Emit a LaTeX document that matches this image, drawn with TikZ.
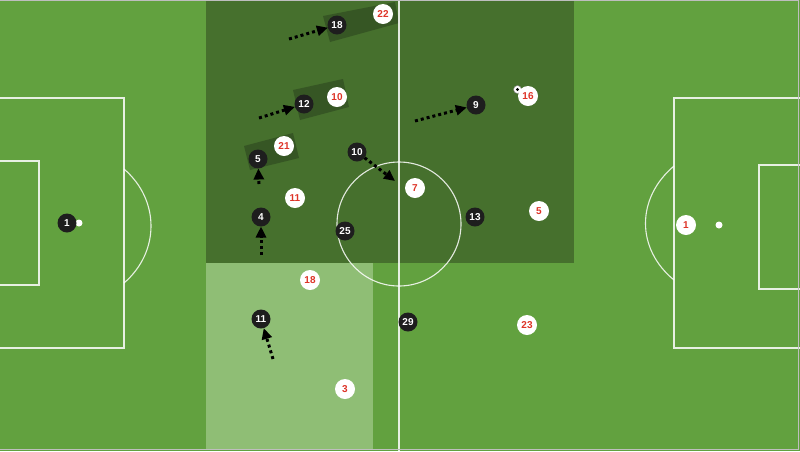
\documentclass[tikz,border=0pt]{standalone}
\usepackage{fontspec}
\setmainfont{Liberation Sans}
\usetikzlibrary{arrows.meta}
\definecolor{fieldgreen}{RGB}{98,161,63}
\definecolor{zonedark}{RGB}{70,112,45}
\definecolor{zonelight}{RGB}{143,190,117}
\definecolor{shadowgreen}{RGB}{54,86,36}
\definecolor{numred}{RGB}{222,52,40}
\definecolor{playerblack}{RGB}{30,30,30}
\definecolor{framegrey}{RGB}{190,190,190}
\begin{document}
\begin{tikzpicture}[x=1pt,y=-1pt,
  pitchline/.style={draw=white, draw opacity=0.85, line width=1.1pt},
  blackp/.style={circle, fill=playerblack, text=white, minimum size=19pt, inner sep=0pt, outer sep=0pt, font=\fontsize{10}{10}\selectfont\bfseries},
  whitep/.style={circle, fill=white, text=numred, minimum size=20pt, inner sep=0pt, outer sep=0pt, font=\fontsize{10}{10}\selectfont\bfseries},
  runarrow/.style={draw=black, line width=3pt, dash pattern=on 3pt off 3pt, -{Triangle[length=11pt,width=10pt]}},
  spot/.style={circle, fill=white, minimum size=7pt, inner sep=0pt}
]
\useasboundingbox (0,0) rectangle (800,451);
% field
\fill[fieldgreen] (0,0) rectangle (800,451);
% zones
\fill[zonedark] (206,0) rectangle (574,263);
\fill[zonelight] (206,263) rectangle (373,449);
% shadows
\fill[shadowgreen] (323,16) -- (395,2) -- (399,23) -- (330,42) -- cycle;
\fill[shadowgreen] (293,90) -- (343,79) -- (349,107) -- (300,120) -- cycle;
\fill[shadowgreen] (244,146) -- (293,133) -- (299,158) -- (250,170) -- cycle;
% pitch lines
\draw[pitchline] (399,0) -- (399,451);
\draw[pitchline] (399,224) circle[radius=62];
\draw[pitchline] (0,98) -- (124,98) -- (124,348) -- (0,348);
\draw[pitchline] (0,161) -- (39,161) -- (39,285) -- (0,285);
\draw[pitchline] (124,169) .. controls (160,200) and (160,252) .. (124,283);
\draw[pitchline] (800,98) -- (674,98) -- (674,348) -- (800,348);
\draw[pitchline] (800,165) -- (759,165) -- (759,289) -- (800,289);
\draw[pitchline] (674,166) .. controls (636,198) and (636,249) .. (674,280);
\node[spot] (spotL) at (79,223) {};
\node[spot] (spotR) at (719,225) {};
% frame
\draw[framegrey, line width=1.2pt] (0,0.6) -- (798.4,0.6) -- (798.4,449.6) -- (0,449.6);
% ball
\node[circle, fill=white, draw=gray, line width=0.4pt, minimum size=8pt, inner sep=0pt] (ball) at (517.5,89.5) {};
\fill[black] (ball.center) circle[radius=1.6pt];
% white team
\node[whitep] (w22) at (383,14) {22};
\node[whitep] (w10) at (337,97) {10};
\node[whitep] (w21) at (284,146) {21};
\node[whitep] (w11) at (295,198) {11};
\node[whitep] (w7) at (415,188) {7};
\node[whitep] (w16) at (528,96) {16};
\node[whitep] (w5) at (539,211) {5};
\node[whitep] (w18) at (310,280) {18};
\node[whitep] (w3) at (345,389) {3};
\node[whitep] (w23) at (527,325) {23};
\node[whitep] (w1) at (686,225) {1};
% black team
\node[blackp] (b1) at (67,223) {1};
\node[blackp] (b18) at (337,25) {18};
\node[blackp] (b12) at (304,104) {12};
\node[blackp] (b5) at (258,159) {5};
\node[blackp] (b10) at (357,152) {10};
\node[blackp] (b9) at (476,105) {9};
\node[blackp] (b13) at (475,217) {13};
\node[blackp] (b4) at (261,217) {4};
\node[blackp] (b25) at (345,231) {25};
\node[blackp] (b11) at (261,319) {11};
\node[blackp] (b29) at (408,322) {29};
% runs
\coordinate (s18) at (289,39);
\coordinate (s12) at (259,118);
\coordinate (s5) at (259,184);
\coordinate (e10) at (395,181);
\coordinate (s9) at (415,121);
\coordinate (s4) at (261,255);
\coordinate (s11) at (273,359);
\draw[runarrow] (s18) -- (b18);
\draw[runarrow] (s12) -- (b12);
\draw[runarrow] (s5) -- (b5);
\draw[runarrow] (b10) -- (e10);
\draw[runarrow] (s9) -- (b9);
\draw[runarrow] (s4) -- (b4);
\draw[runarrow] (s11) -- (b11);
\end{tikzpicture}
\end{document}
